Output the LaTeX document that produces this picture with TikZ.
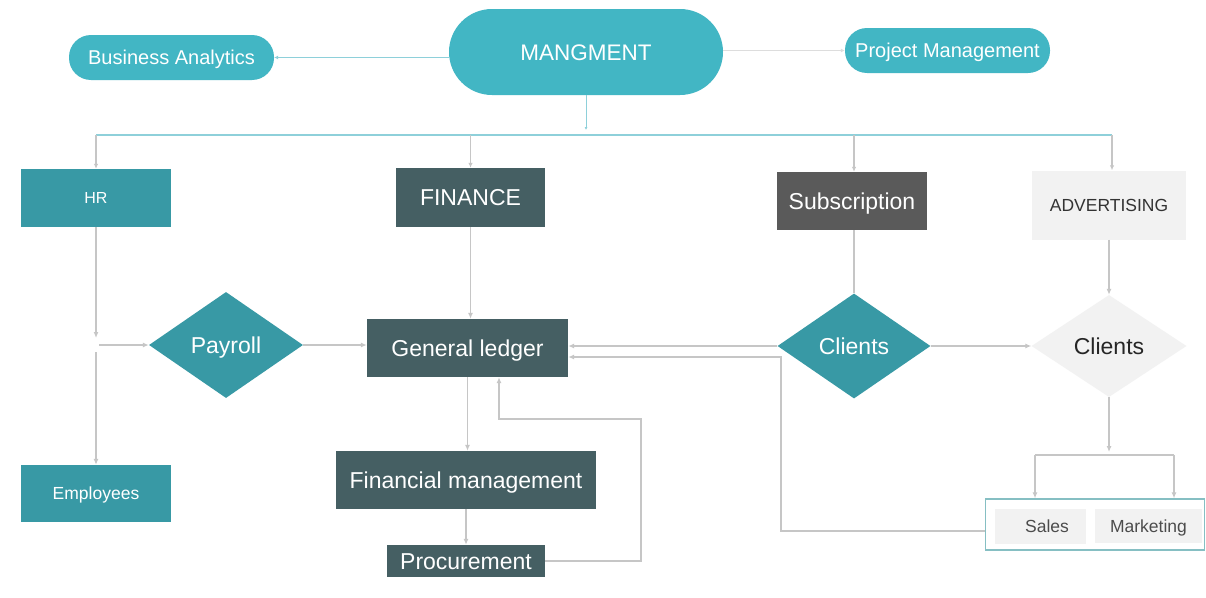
\documentclass[tikz,border=0pt]{standalone}
\usepackage{fontspec}
\setmainfont{Liberation Sans}
\usetikzlibrary{shapes.geometric,arrows.meta}
\definecolor{tealA}{HTML}{42B6C4}
\definecolor{tealB}{HTML}{3899A5}
\definecolor{slateC}{HTML}{455F63}
\definecolor{dgrayC}{HTML}{5A5A5A}
\definecolor{lgrayC}{HTML}{F2F2F2}
\definecolor{lineC}{HTML}{C6C6C6}
\definecolor{busC}{HTML}{8ED0DA}
\definecolor{grpC}{HTML}{86BFC3}
\begin{document}
\begin{tikzpicture}[x=1pt,y=-1pt,
  box/.style={rectangle, inner sep=0pt, text=white},
  pill/.style={rectangle, rounded corners=#1, fill=tealA, text=white, inner sep=0pt},
  dia/.style={diamond, inner sep=0pt},
  conn/.style={draw=lineC, line width=1.8pt, -{Latex[length=6pt,width=5pt]}},
  thinconn/.style={draw=lineC, line width=1.4pt, -{Latex[length=5pt,width=4.5pt]}},
  plainline/.style={draw=lineC, line width=1.8pt},
  big/.style={font=\fontsize{23}{26}\selectfont, text height=16.5pt, text depth=0pt},
  mid/.style={font=\fontsize{17.5}{20}\selectfont, text height=12.5pt, text depth=0pt},
  pilltxt/.style={font=\fontsize{20}{24}\selectfont, text height=14.3pt, text depth=0pt},
]
\fill[white] (0,0) rectangle (1206,597);
\useasboundingbox (0,0) rectangle (1206,597);

% top level
\node[pill=43pt, minimum width=274pt, minimum height=86pt, font=\fontsize{22.5}{26}\selectfont, text height=16.1pt, text depth=0pt] (mg) at (586,52) {MANGMENT};
\node[pill=22pt, minimum width=205pt, minimum height=45pt, pilltxt] (ba) at (171.5,57.5) {Business Analytics};
\node[pill=22pt, minimum width=205pt, minimum height=45pt, pilltxt] (pm) at (947.5,50.5) {Project Management};

% departments
\node[box, fill=tealB, minimum width=150pt, minimum height=58pt, font=\fontsize{16}{18}\selectfont, text height=11.5pt, text depth=0pt] (hr) at (96,198) {HR};
\node[box, fill=slateC, minimum width=149pt, minimum height=59pt, big] (fin) at (470.5,197.5) {FINANCE};
\node[box, fill=dgrayC, minimum width=150pt, minimum height=58pt, big] (sub) at (852,201) {Subscription};
\node[box, fill=lgrayC, text=black!80, minimum width=154pt, minimum height=69pt, mid] (adv) at (1109,205) {ADVERTISING};

% middle row
\node[dia, fill=tealB, text=white, minimum width=154pt, minimum height=106pt, big] (pay) at (226,345) {Payroll};
\node[box, fill=slateC, minimum width=201pt, minimum height=58pt, big] (gl) at (467.5,348) {General ledger};
\node[dia, fill=tealB, text=white, minimum width=153pt, minimum height=105pt, big] (c1) at (854,346) {Clients};
\node[dia, fill=lgrayC, text=black!85, minimum width=155pt, minimum height=102pt, big] (c2) at (1109,346) {Clients};

% lower row
\node[box, fill=tealB, minimum width=150pt, minimum height=57pt, mid] (emp) at (96,493.5) {Employees};
\node[box, fill=slateC, minimum width=260pt, minimum height=58pt, big] (fm) at (466,480) {Financial management};
\node[box, fill=slateC, minimum width=158pt, minimum height=32pt, big] (pro) at (466,561) {Procurement};

% group
\node[draw=grpC, line width=1.2pt, minimum width=219pt, minimum height=51pt, inner sep=0pt] (grp) at (1095,524.5) {};
\node[box, fill=lgrayC, text=black!70, minimum width=91pt, minimum height=35pt, mid] (sales) at (1040,526) {\hspace{14pt}Sales};
\node[box, fill=lgrayC, text=black!70, minimum width=107pt, minimum height=34pt, mid] (mkt) at (1148.5,526) {Marketing};

% coordinates
\coordinate (mgd) at (586,130);
\coordinate (busL) at (96,135);
\coordinate (busR) at (1112,135);
\coordinate (hrj1) at (96,338);
\coordinate (hrj2) at (99,345);
\coordinate (hrj3) at (96,352);
\coordinate (pr1) at (641,561);
\coordinate (pr2) at (641,419);
\coordinate (pr3) at (499,419);
\coordinate (sp) at (1109,452);
\coordinate (spL) at (1035,455);
\coordinate (spR) at (1174,455);
\coordinate (fb1) at (781,531);
\coordinate (fb2) at (781,357);

% top connectors
\draw[draw=busC, line width=0.9pt, -{Latex[length=4pt,width=4pt]}] (mg.west |- ba.east) -- (ba.east);
\draw[draw=lineC!60, line width=0.9pt, -{Latex[length=4pt,width=4pt]}] (mg.east |- pm.west) -- (pm.west);
\draw[draw=busC, line width=0.9pt, -{Latex[length=3pt,width=3pt]}] (mg.south) -- (mgd);
\draw[draw=busC, line width=1.4pt] (busL) -- (busR);
\draw[thinconn] (busL) -- (hr.north);
\draw[thinconn] (fin.north |- busL) -- (fin.north);
\draw[thinconn] (c1.north |- busL) -- (c1.north |- sub.north);
\draw[thinconn] (busR) -- (busR |- adv.north);

% HR branch
\draw[conn] (hr.south) -- (hrj1);
\draw[conn] (hrj2) -- (pay.west);
\draw[conn] (hrj3) -- (emp.north);
\draw[conn] (pay.east) -- (pay.east -| gl.west);

% finance branch
\draw[conn] (fin.south) -- (fin.south |- gl.north);
\draw[conn] (gl.south) -- (gl.south |- fm.north);
\draw[conn] (fm.south) -- (fm.south |- pro.north);
\draw[conn] (pro.east |- pr1) -- (pr1) -- (pr2) -- (pr3) -- (pr3 |- gl.south);

% clients
\draw[plainline] (c1.north |- sub.south) -- (c1.north);
\draw[conn] (c1.west) -- (c1.west -| gl.east);
\draw[conn] (c1.east) -- (c2.west);
\draw[conn] (adv.south) -- (c2.north);
\draw[conn] (c2.south) -- (sp);
\draw[plainline] (spL) -- (spR);
\draw[conn] (spL) -- (spL |- grp.north);
\draw[conn] (spR) -- (spR |- grp.north);
\draw[conn] (fb1 -| grp.west) -- (fb1) -- (fb2) -- (fb2 -| gl.east);
\end{tikzpicture}
\end{document}
